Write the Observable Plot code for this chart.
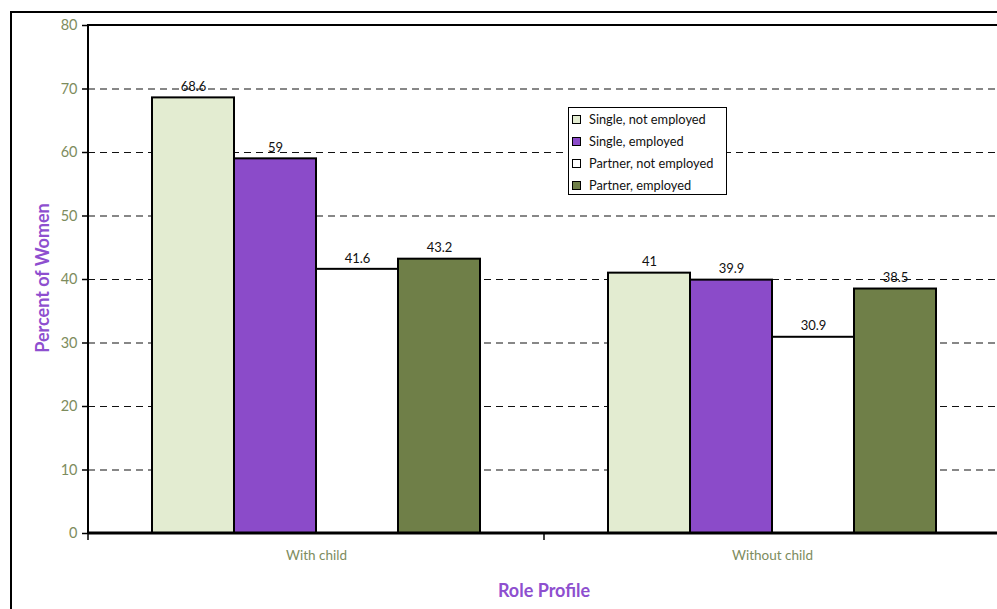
<!DOCTYPE html>
<html>
<head>
<meta charset="utf-8">
<script src="https://cdn.jsdelivr.net/npm/d3@7"></script>
<script src="https://cdn.jsdelivr.net/npm/@observablehq/plot@0.6"></script>
<style>
  html, body { margin: 0; padding: 0; background: #fff; overflow: hidden; width: 997px; height: 609px; }
  #wrap { position: relative; width: 997px; height: 609px; font-family: Lato, "Open Sans", sans-serif; }
  #outer { position: absolute; left: 10px; top: 11px; width: 1020px; height: 640px; border: 2px solid #000; }
  #chart { position: absolute; left: 0; top: 0; width: 1020px; }
  #chart svg { max-width: none !important; }
  .ytitle { position: absolute; left: 42px; top: 278px; transform: translate(-50%, -50%) rotate(-90deg);
    color: #8e4fcf; font-weight: bold; font-size: 18px; white-space: nowrap; }
  .xtitle { position: absolute; left: 544px; top: 590px; transform: translate(-50%, -50%);
    color: #8e4fcf; font-weight: bold; font-size: 18px; white-space: nowrap; }
  #legend { position: absolute; left: 568px; top: 107px; width: 157px; height: 86px; border: 1.5px solid #000;
    background: #fff; font-size: 12.8px; color: #111; }
  #legend .item { position: absolute; left: 3px; display: flex; align-items: center; height: 16px; }
  #legend .sw { width: 7px; height: 7px; border: 1.5px solid #000; margin-right: 8px; }
</style>
</head>
<body>
<div id="wrap">
  <div id="outer"></div>
  <div id="chart"></div>
  <div class="ytitle">Percent of Women</div>
  <div class="xtitle">Role Profile</div>
  <div id="legend"></div>
</div>
<script>
const categories = ["With child", "Without child"];
const series = ["Single, not employed", "Single, employed", "Partner, not employed", "Partner, employed"];
const withChild = [68.6, 59, 41.6, 43.2];
const withoutChild = [41, 39.9, 30.9, 38.5];
const yTicks = [0, 10, 20, 30, 40, 50, 60, 70, 80];
const gridTicks = [10, 20, 30, 40, 50, 60, 70];
const colors = ["#e3ecd1", "#8b4bc9", "#ffffff", "#6f7f48"];

const data = categories.flatMap((c, i) =>
  series.map((s, j) => ({category: c, series: s, value: (i === 0 ? withChild : withoutChild)[j]})));

const tickColor = "#7d8c5d";

const chart = Plot.plot({
  width: 1020,
  height: 620,
  marginLeft: 88,
  marginRight: 20,
  marginTop: 25,
  marginBottom: 87,
  style: {fontFamily: "Lato, 'Open Sans', sans-serif", background: "transparent", overflow: "visible", maxWidth: "none"},
  fx: {domain: categories, padding: 0, label: null, axis: null},
  x: {domain: series, paddingInner: 0, paddingOuter: 0.76, axis: null},
  y: {domain: [0, 80], axis: null},
  color: {domain: series, range: colors},
  marks: [
    Plot.ruleY(gridTicks, {stroke: "#111", strokeWidth: 1.2, strokeDasharray: "7,5"}),
    Plot.axisY(yTicks, {tickSize: 6, tickPadding: 5, label: null, fontSize: 14.5, color: tickColor, stroke: "#000", strokeWidth: 1.5}),
    Plot.axisFx({anchor: "bottom", tickSize: 0, tickPadding: 17, label: null, fontSize: 13.5, color: tickColor}),
    Plot.barY(data, {fx: "category", x: "series", y: "value", fill: "series", stroke: "#000", strokeWidth: 2}),
    Plot.text(data, {fx: "category", x: "series", y: "value", text: d => String(d.value), dy: -11, fontSize: 13, fill: "#111"})
  ]
});
chart.style.maxWidth = "none";

// frame + axis lines and category ticks derived from scales
const ys = chart.scale("y");
const fxs = chart.scale("fx");
const [y0, y1] = ys.range;
const xl = fxs.range[0], xr = fxs.range[1];
const svg = d3.select(chart);
svg.append("rect").attr("x", xl).attr("y", y1).attr("width", xr - xl).attr("height", y0 - y1)
  .attr("fill", "none").attr("stroke", "#000").attr("stroke-width", 2);
svg.append("line").attr("x1", xl).attr("x2", xr).attr("y1", y0).attr("y2", y0)
  .attr("stroke", "#000").attr("stroke-width", 3);
const bounds = [xl, ...categories.map(c => fxs.apply(c) + fxs.bandwidth)];
bounds.forEach(b => svg.append("line").attr("x1", b).attr("x2", b).attr("y1", y0).attr("y2", y0 + 7)
  .attr("stroke", "#000").attr("stroke-width", 1.5));

document.getElementById("chart").appendChild(chart);

// legend
const legend = d3.select("#legend");
series.forEach((s, i) => {
  const it = legend.append("div").attr("class", "item").style("top", (3 + i * 22) + "px");
  it.append("div").attr("class", "sw").style("background", colors[i]);
  it.append("span").text(s);
});
</script>
</body>
</html>
